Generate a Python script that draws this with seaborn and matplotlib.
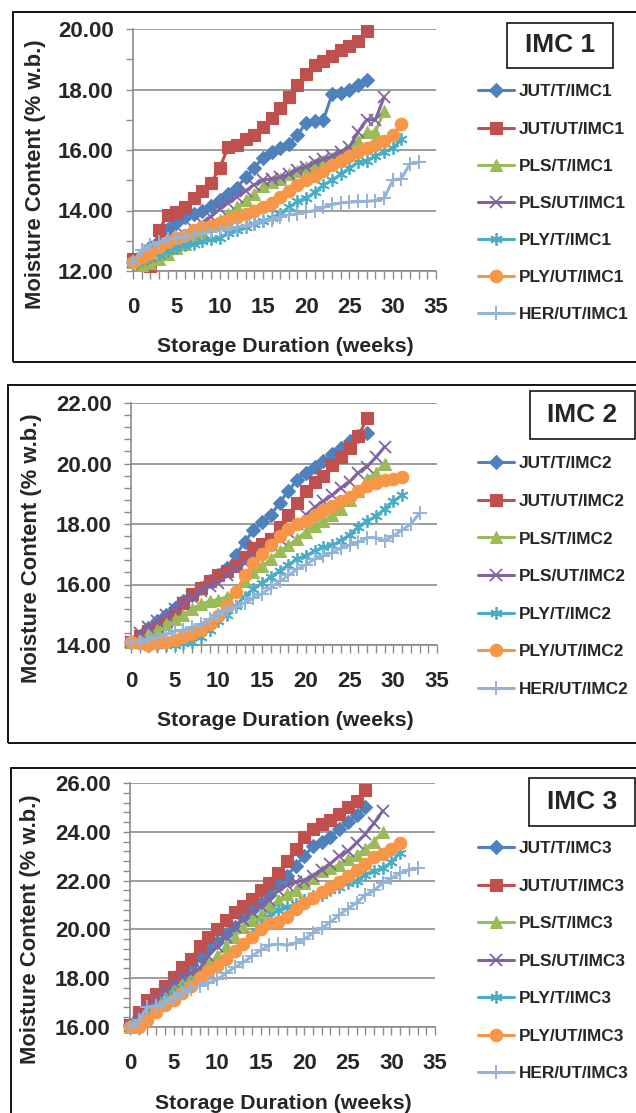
import matplotlib
matplotlib.use("Agg")
import matplotlib.pyplot as plt
from matplotlib.patches import Rectangle
from matplotlib.ticker import MultipleLocator, FormatStrFormatter
import seaborn as sns

# ---------------- data (moisture content, % w.b., weekly readings) ----------------
series_names = ["JUT/T", "JUT/UT", "PLS/T", "PLS/UT", "PLY/T", "PLY/UT", "HER/UT"]

imc1_jut_t = [12.3, 12.5, 12.8, 13.0, 13.4, 13.6, 13.8, 13.9, 14.0, 14.15, 14.35, 14.55, 14.75, 15.1,
              15.4, 15.75, 15.95, 16.05, 16.2, 16.5, 16.9, 16.95, 17.0, 17.85, 17.9, 18.0, 18.15, 18.3]
imc1_jut_ut = [12.4, 12.2, 12.15, 13.35, 13.85, 13.95, 14.1, 14.4, 14.65, 14.9, 15.4, 16.1, 16.15, 16.35,
               16.5, 16.75, 17.05, 17.4, 17.75, 18.15, 18.5, 18.8, 18.95, 19.1, 19.3, 19.45, 19.6, 19.95]
imc1_pls_t = [12.3, 12.2, 12.25, 12.4, 12.55, 12.75, 12.9, 13.1, 13.3, 13.5, 13.7, 13.9, 14.1, 14.35,
              14.55, 14.8, 14.95, 15.05, 15.2, 15.3, 15.45, 15.55, 15.65, 15.75, 15.85, 16.0, 16.3, 16.6,
              16.6, 17.3]
imc1_pls_ut = [12.3, 12.4, 12.5, 12.6, 12.75, 12.95, 13.2, 13.4, 13.6, 13.8, 14.05, 14.25, 14.45, 14.65,
               14.85, 15.0, 15.05, 15.1, 15.2, 15.35, 15.45, 15.6, 15.7, 15.8, 15.95, 16.1, 16.6, 17.0,
               17.0, 17.75]
imc1_ply_t = [12.3, 12.35, 12.45, 12.55, 12.65, 12.75, 12.85, 12.9, 13.0, 13.05, 13.1, 13.25, 13.35, 13.45,
              13.55, 13.65, 13.75, 13.9, 14.1, 14.3, 14.4, 14.6, 14.85, 15.0, 15.2, 15.4, 15.6, 15.65,
              15.8, 15.95, 16.05, 16.35]
imc1_ply_ut = [12.3, 12.45, 12.6, 12.8, 12.95, 13.1, 13.2, 13.35, 13.45, 13.5, 13.6, 13.7, 13.8, 13.9,
               14.0, 14.1, 14.25, 14.45, 14.65, 14.85, 15.0, 15.15, 15.3, 15.5, 15.65, 15.8, 15.95, 16.05,
               16.15, 16.3, 16.5, 16.85]
imc1_her_ut = [12.3, 12.7, 12.85, 12.95, 13.05, 13.1, 13.15, 13.2, 13.25, 13.3, 13.35, 13.4, 13.45, 13.5,
               13.55, 13.65, 13.7, 13.8, 13.85, 13.9, 13.95, 14.0, 14.1, 14.2, 14.25, 14.27, 14.3, 14.3,
               14.33, 14.4, 15.0, 15.05, 15.55, 15.6]

imc2_jut_t = [14.1, 14.3, 14.55, 14.78, 15.0, 15.22, 15.44, 15.66, 15.9, 16.1, 16.3, 16.55, 16.98, 17.4,
              17.8, 18.05, 18.3, 18.7, 19.1, 19.45, 19.7, 19.9, 20.07, 20.3, 20.5, 20.73, 20.9, 21.0]
imc2_jut_ut = [14.1, 14.3, 14.45, 14.6, 14.8, 15.05, 15.4, 15.7, 15.9, 16.1, 16.3, 16.45, 16.6, 16.9,
               17.2, 17.35, 17.5, 17.9, 18.3, 18.7, 19.1, 19.4, 19.6, 19.95, 20.2, 20.5, 20.9, 21.5]
imc2_pls_t = [14.1, 14.2, 14.35, 14.5, 14.7, 14.85, 15.0, 15.2, 15.35, 15.45, 15.5, 15.6, 15.8, 16.1,
              16.4, 16.6, 16.85, 17.1, 17.3, 17.5, 17.75, 17.95, 18.1, 18.3, 18.5, 18.8, 19.1, 19.5,
              19.7, 20.0]
imc2_pls_ut = [14.1, 14.4, 14.6, 14.8, 15.0, 15.2, 15.4, 15.6, 15.8, 15.95, 16.05, 16.3, 16.5, 16.7,
               16.9, 17.1, 17.3, 17.5, 17.75, 18.0, 18.3, 18.55, 18.75, 18.95, 19.2, 19.4, 19.7, 19.9,
               20.2, 20.55]
imc2_ply_t = [14.1, 14.05, 14.0, 14.0, 14.0, 14.0, 14.05, 14.1, 14.25, 14.5, 14.8, 15.0, 15.3, 15.6,
              15.85, 16.05, 16.25, 16.45, 16.65, 16.85, 16.95, 17.1, 17.25, 17.3, 17.45, 17.65, 17.9,
              18.1, 18.25, 18.5, 18.75, 18.95]
imc2_ply_ut = [14.1, 14.05, 14.0, 14.05, 14.1, 14.15, 14.25, 14.35, 14.5, 14.7, 14.95, 15.3, 15.75, 16.3,
               16.7, 17.0, 17.3, 17.6, 17.85, 18.0, 18.1, 18.3, 18.45, 18.6, 18.75, 18.9, 19.1, 19.25,
               19.35, 19.45, 19.5, 19.55]
imc2_her_ut = [14.1, 14.1, 14.2, 14.25, 14.35, 14.45, 14.5, 14.6, 14.7, 14.85, 15.0, 15.15, 15.25, 15.4,
               15.55, 15.7, 15.9, 16.1, 16.3, 16.5, 16.65, 16.85, 16.95, 17.05, 17.2, 17.3, 17.4, 17.55,
               17.55, 17.45, 17.6, 17.8, 18.0, 18.35]

imc3_jut_t = [16.1, 16.4, 16.8, 17.1, 17.5, 17.9, 18.3, 18.6, 18.9, 19.2, 19.5, 19.8, 20.1, 20.5,
              20.8, 21.1, 21.4, 21.8, 22.2, 22.6, 23.0, 23.4, 23.6, 23.8, 24.1, 24.4, 24.7, 25.0]
imc3_jut_ut = [16.1, 16.6, 17.1, 17.35, 17.7, 18.05, 18.45, 18.8, 19.3, 19.7, 20.0, 20.4, 20.7, 20.95,
               21.25, 21.6, 21.9, 22.3, 22.8, 23.3, 23.8, 24.1, 24.3, 24.5, 24.75, 25.0, 25.25, 25.7]
imc3_pls_t = [16.0, 16.3, 16.6, 16.9, 17.2, 17.5, 17.8, 18.1, 18.3, 18.6, 18.9, 19.3, 19.7, 20.1,
              20.4, 20.6, 20.9, 21.2, 21.45, 21.6, 21.9, 22.1, 22.4, 22.5, 22.65, 22.9, 23.05, 23.3,
              23.6, 24.0]
imc3_pls_ut = [16.1, 16.4, 16.8, 17.1, 17.5, 17.8, 18.05, 18.2, 18.4, 18.9, 19.3, 19.7, 20.1, 20.4,
               20.7, 20.95, 21.2, 21.6, 21.8, 21.95, 22.0, 22.2, 22.45, 22.7, 23.0, 23.2, 23.55, 23.9,
               24.35, 24.85]
imc3_ply_t = [16.0, 16.2, 16.5, 16.8, 17.1, 17.4, 17.6, 17.8, 18.0, 18.2, 18.5, 18.8, 19.1, 19.4,
              19.8, 20.2, 20.5, 20.8, 20.9, 21.05, 21.2, 21.35, 21.4, 21.6, 21.75, 21.9, 22.0, 22.25,
              22.4, 22.5, 22.75, 23.15]
imc3_ply_ut = [16.0, 16.0, 16.3, 16.6, 16.9, 17.1, 17.4, 17.7, 18.0, 18.3, 18.5, 18.8, 19.1, 19.4,
               19.7, 20.0, 20.25, 20.3, 20.5, 20.85, 21.1, 21.3, 21.55, 21.75, 21.95, 22.2, 22.45, 22.7,
               22.95, 23.1, 23.3, 23.55]
imc3_her_ut = [16.0, 16.3, 16.8, 16.85, 17.0, 17.2, 17.4, 17.55, 17.7, 17.8, 17.95, 18.2, 18.45, 18.65,
               18.9, 19.15, 19.35, 19.4, 19.35, 19.45, 19.6, 19.85, 20.05, 20.3, 20.6, 20.85, 21.1, 21.4,
               21.6, 21.9, 22.1, 22.3, 22.45, 22.5]

panel_titles = ["IMC 1", "IMC 2", "IMC 3"]
panel_suffix = ["IMC1", "IMC2", "IMC3"]
panel_series = [
    [imc1_jut_t, imc1_jut_ut, imc1_pls_t, imc1_pls_ut, imc1_ply_t, imc1_ply_ut, imc1_her_ut],
    [imc2_jut_t, imc2_jut_ut, imc2_pls_t, imc2_pls_ut, imc2_ply_t, imc2_ply_ut, imc2_her_ut],
    [imc3_jut_t, imc3_jut_ut, imc3_pls_t, imc3_pls_ut, imc3_ply_t, imc3_ply_ut, imc3_her_ut],
]
y_limits = [(12, 20), (14, 22), (16, 26)]
y_minor = [1.0, 0.4, 0.4]
x_ticks = [0, 5, 10, 15, 20, 25, 30, 35]
xlabel_text = "Storage Duration (weeks)"
ylabel_text = "Moisture Content (% w.b.)"

# ---------------- styling ----------------
sns.set_style("white")
plt.rcParams["font.family"] = ["Liberation Sans", "DejaVu Sans"]
plt.rcParams["font.weight"] = "bold"

colors = ["#4F81BD", "#C0504D", "#9BBB59", "#8064A2", "#4BACC6", "#F79646", "#95B3D7"]
markers = ["D", "s", "^", "x", (6, 2, 0), "o", "+"]
msizes = [7.2, 8.6, 8.6, 8.0, 9.0, 9.0, 10.5]
mews = [0.8, 0.8, 0.8, 1.3, 1.3, 0.8, 1.4]
GRID = "#8C8C8C"

W, H = 636, 1113
fig = plt.figure(figsize=(W / 100, H / 100), dpi=100)

def fx(px):
    return px / W

def fy(py):
    return 1 - py / H

# pixel layouts: axes (left, top, right, bottom), border (l, t, r, b), title box (l, t, r, b), legend first-row y
axes_px = [(133, 29, 436, 271), (131, 403, 437, 645), (130, 783, 435, 1027)]
border_px = [(13, 12, 640, 362), (8, 385, 640, 743), (11, 768, 640, 1125)]
tbox_px = [(507, 23, 613, 68), (530, 391, 635, 439), (529, 778, 635, 826)]
ylabel_x = [35, 32, 30]
leg_y0 = [93, 465, 850]
leg_dy = [37.2, 37.6, 37.5]

for p in range(3):
    l, t, r, b = axes_px[p]
    ax = fig.add_axes([fx(l), fy(b), fx(r) - fx(l), (b - t) / H])

    # panel border
    bl, bt, br, bb = border_px[p]
    fig.patches.append(Rectangle((fx(bl), fy(bb)), fx(br) - fx(bl), (bb - bt) / H,
                                 transform=fig.transFigure, fill=False,
                                 edgecolor="black", linewidth=1.3, zorder=0))

    for i, vals in enumerate(panel_series[p]):
        weeks = list(range(len(vals)))
        sns.lineplot(x=weeks, y=vals, ax=ax, color=colors[i], linewidth=2.2,
                     marker=markers[i], markersize=msizes[i],
                     markeredgecolor=colors[i], markerfacecolor=colors[i],
                     markeredgewidth=mews[i], clip_on=False, legend=False,
                     label=f"{series_names[i]}/{panel_suffix[p]}", zorder=3 + i)
    handles = ax.get_lines()

    ax.set_xlim(0, 35)
    ax.set_ylim(*y_limits[p])
    ax.set_xticks(x_ticks)
    ax.xaxis.set_minor_locator(MultipleLocator(1))
    ax.set_yticks([v for v in range(y_limits[p][0], y_limits[p][1] + 1, 2)])
    ax.yaxis.set_minor_locator(MultipleLocator(y_minor[p]))
    ax.yaxis.set_major_formatter(FormatStrFormatter("%.2f"))

    ax.grid(axis="y", which="major", color=GRID, linewidth=1.2)
    ax.set_axisbelow(True)
    for s in ["top", "right"]:
        ax.spines[s].set_visible(False)
    for s in ["left", "bottom"]:
        ax.spines[s].set_color(GRID)
        ax.spines[s].set_linewidth(1.2)

    ax.tick_params(axis="x", which="both", direction="out", color=GRID, width=1.0,
                   length=6, pad=13, labelsize=16, bottom=True)
    ax.tick_params(axis="y", which="both", direction="out", color=GRID, width=1.0,
                   length=5, pad=9, labelsize=16, left=True)
    for lab in ax.get_xticklabels() + ax.get_yticklabels():
        lab.set_fontweight("bold")

    ax.set_xlabel(xlabel_text, fontsize=15.3, fontweight="bold")
    ax.set_ylabel(ylabel_text, fontsize=15.8, fontweight="bold")
    ax.xaxis.label.set_va("center")
    ax.yaxis.label.set_va("center")
    ax.xaxis.set_label_coords(0.503, -0.312)
    ax.yaxis.set_label_coords((ylabel_x[p] - l) / (r - l), 0.40)

    # title box
    tl, tt, tr, tb = tbox_px[p]
    fig.patches.append(Rectangle((fx(tl), fy(tb)), fx(tr) - fx(tl), (tb - tt) / H,
                                 transform=fig.transFigure, facecolor="white",
                                 edgecolor="black", linewidth=1.1, zorder=1))
    fig.text(fx((tl + tr) / 2), fy((tt + tb) / 2), panel_titles[p], ha="center", va="center",
             fontsize=19, fontweight="bold")

    # legend, placed outside the plotting area to the right
    labels = [h.get_label() for h in handles]
    fsz = 12.4
    row_px = fsz * 100 / 72
    spacing = (leg_dy[p] - row_px + 2.1) / row_px
    top_px = leg_y0[p] - row_px / 2
    fig.legend(handles, labels, loc="upper left",
               bbox_to_anchor=(fx(478), fy(top_px)), bbox_transform=fig.transFigure,
               frameon=False, handlelength=2.1, handletextpad=0.28,
               labelspacing=spacing, borderpad=0, borderaxespad=0,
               prop={"weight": "bold", "size": fsz})

fig.savefig("out.png", dpi=100)
